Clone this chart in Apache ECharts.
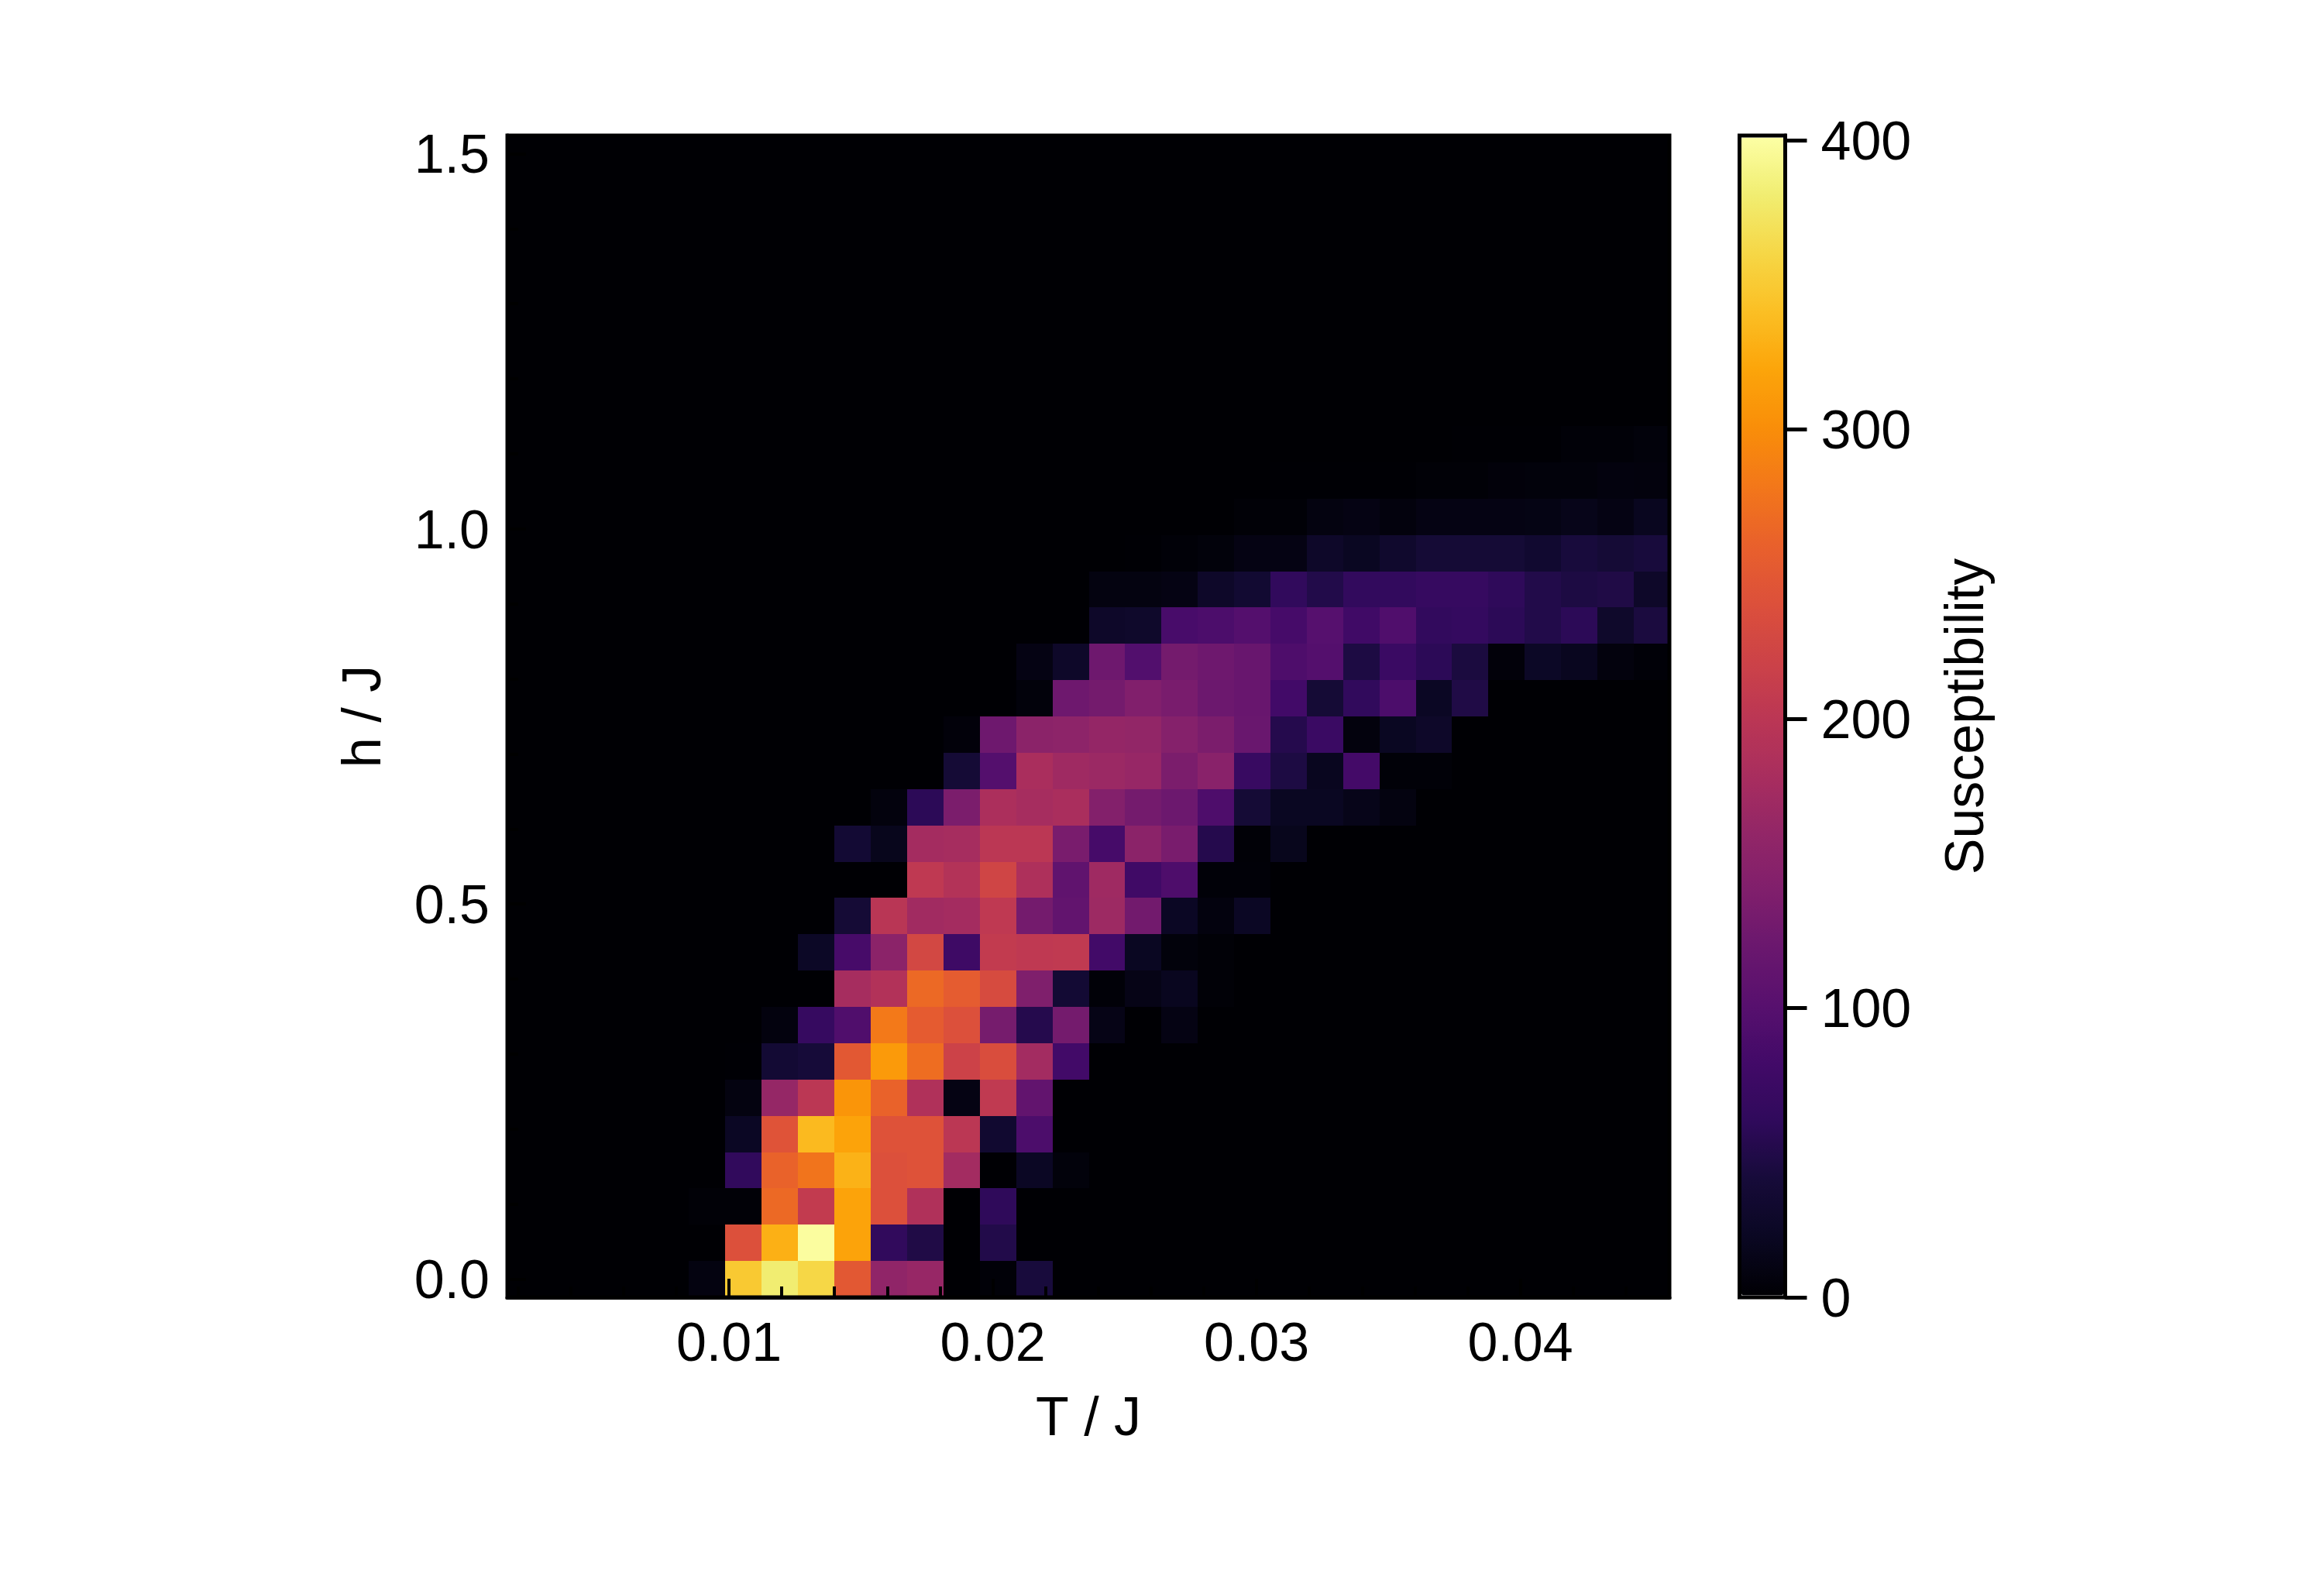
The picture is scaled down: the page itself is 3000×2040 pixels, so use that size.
<!DOCTYPE html>
<html>
<head>
<meta charset="utf-8">
<style>html,body{margin:0;padding:0;background:#fff}#c{width:3000px;height:2040px}</style>
<script src="https://cdn.jsdelivr.net/npm/echarts@6/dist/echarts.min.js"></script>
</head>
<body>
<div id="c"></div>
<script>
const temperatures = [0.00229,0.00366,0.00504,0.00642,0.00780,0.00917,0.01055,0.01193,0.01331,0.01468,0.01606,0.01744,0.01882,0.02019,0.02157,0.02295,0.02433,0.02570,0.02708,0.02846,0.02984,0.03121,0.03259,0.03397,0.03535,0.03672,0.03810,0.03948,0.04086,0.04223,0.04361,0.04499];
const fields = [0,0.0484,0.0968,0.1452,0.1935,0.2419,0.2903,0.3387,0.3871,0.4355,0.4839,0.5323,0.5806,0.6290,0.6774,0.7258,0.7742,0.8226,0.8710,0.9194,0.9677,1.0161,1.0645,1.1129,1.1613,1.2097,1.2581,1.3065,1.3548,1.4032,1.4516,1.5];
// rows from h = 0 upward, one value per temperature
const susceptibility = [
[0,0,0,0,0,8,350,382,362,250,158,164,0,3,42,0,0,0,0,0,0,0,0,0,0,0,0,0,0,0,0,0],
[0,0,0,0,0,0,240,330,400,320,62,48,0,50,0,0,0,0,0,0,0,0,0,0,0,0,0,0,0,0,0,0],
[0,0,0,0,0,2,2,268,208,320,240,188,0,60,0,0,0,0,0,0,0,0,0,0,0,0,0,0,0,0,0,0],
[0,0,0,0,0,0,62,262,278,332,240,243,175,0,22,5,0,0,0,0,0,0,0,0,0,0,0,0,0,0,0,0],
[0,0,0,0,0,0,22,244,338,320,243,243,200,32,90,0,0,0,0,0,0,0,0,0,0,0,0,0,0,0,0,0],
[0,0,0,0,0,0,8,163,200,308,262,188,10,206,112,0,0,0,0,0,0,0,0,0,0,0,0,0,0,0,0,0],
[0,0,0,0,0,0,1,36,40,250,312,272,220,236,175,80,0,0,0,0,0,0,0,0,0,0,0,0,0,0,0,0],
[0,0,0,0,0,0,0,7,68,94,282,254,240,132,52,130,12,0,10,0,0,0,0,0,0,0,0,0,0,0,0,0],
[0,0,0,0,0,0,0,0,0,178,190,268,255,233,140,36,3,12,18,2,0,0,0,0,0,0,0,0,0,0,0,0],
[0,0,0,0,0,0,0,0,24,85,152,228,76,208,204,206,80,20,5,2,0,0,0,0,0,0,0,0,0,0,0,0],
[0,0,0,0,0,0,0,0,0,38,198,174,176,204,130,112,170,128,22,7,22,0,0,0,0,0,0,0,0,0,0,0],
[0,0,0,0,0,0,0,0,0,0,0,204,192,224,186,110,172,78,92,3,3,0,0,0,0,0,0,0,0,0,0,0],
[0,0,0,0,0,0,0,0,0,36,16,176,178,200,200,134,84,152,134,52,2,16,0,0,0,0,0,0,0,0,0,0],
[0,0,0,0,0,0,0,0,0,0,6,58,136,184,178,182,144,130,122,92,38,20,20,14,8,0,0,0,0,0,0,0],
[0,0,0,0,0,0,0,0,0,0,0,0,38,98,182,172,168,164,136,150,70,46,18,82,3,3,0,0,0,0,0,0],
[0,0,0,0,0,0,0,0,0,0,0,0,4,124,152,154,162,160,146,136,120,52,72,6,20,26,0,0,0,0,0,0],
[0,0,0,0,0,0,0,0,0,0,0,0,0,0,5,124,130,142,134,122,118,80,38,62,90,22,48,0,0,0,0,0],
[0,0,0,0,0,0,0,0,0,0,0,0,0,0,10,26,124,96,130,124,118,92,98,46,72,58,44,4,24,18,6,3],
[0,0,0,0,0,0,0,0,0,0,0,0,0,0,0,0,26,28,86,90,98,84,100,78,94,64,66,58,50,58,28,44],
[0,0,0,0,0,0,0,0,0,0,0,0,0,0,0,0,8,8,10,26,34,62,50,64,64,68,68,60,50,46,48,26],
[0,0,0,0,0,0,0,0,0,0,0,0,0,0,0,0,0,1,3,5,10,10,26,20,30,38,38,38,32,42,38,42],
[0,0,0,0,0,0,0,0,0,0,0,0,0,0,0,0,0,0,0,0,2,2,8,10,6,10,10,10,11,14,10,18],
[0,0,0,0,0,0,0,0,0,0,0,0,0,0,0,0,0,0,0,0,0,1,1,1,1,2,2,4,5,5,7,6],
[0,0,0,0,0,0,0,0,0,0,0,0,0,0,0,0,0,0,0,0,0,0,0,0,0,0,1,1,1,3,3,5],
[0,0,0,0,0,0,0,0,0,0,0,0,0,0,0,0,0,0,0,0,0,0,0,0,0,0,0,0,0,0,0,0],
[0,0,0,0,0,0,0,0,0,0,0,0,0,0,0,0,0,0,0,0,0,0,0,0,0,0,0,0,0,0,0,0],
[0,0,0,0,0,0,0,0,0,0,0,0,0,0,0,0,0,0,0,0,0,0,0,0,0,0,0,0,0,0,0,0],
[0,0,0,0,0,0,0,0,0,0,0,0,0,0,0,0,0,0,0,0,0,0,0,0,0,0,0,0,0,0,0,0],
[0,0,0,0,0,0,0,0,0,0,0,0,0,0,0,0,0,0,0,0,0,0,0,0,0,0,0,0,0,0,0,0],
[0,0,0,0,0,0,0,0,0,0,0,0,0,0,0,0,0,0,0,0,0,0,0,0,0,0,0,0,0,0,0,0],
[0,0,0,0,0,0,0,0,0,0,0,0,0,0,0,0,0,0,0,0,0,0,0,0,0,0,0,0,0,0,0,0],
[0,0,0,0,0,0,0,0,0,0,0,0,0,0,0,0,0,0,0,0,0,0,0,0,0,0,0,0,0,0,0,0]
];
const xMajorTicks = [0.01,0.02,0.03,0.04];
const xMinorTicks = [0.002,0.004,0.006,0.008,0.012,0.014,0.016,0.018,0.022,0.024,0.026,0.028,0.032,0.034,0.036,0.038,0.042,0.044];
const yMajorTicks = [0,0.5,1,1.5];
const yMinorTicks = [0.1,0.2,0.3,0.4,0.6,0.7,0.8,0.9,1.1,1.2,1.3,1.4];
const colorbarTicks = [0,100,200,300,400];
const infernoStops = ['#000004','#0a0722','#160b39','#2f0a5b','#420a68','#57106e','#6a176e','#801f6c','#932667','#a92e5e','#bc3754','#cd4347','#dd513a','#e9612b','#f37819','#f98e09','#fca50a','#fbbf24','#f6d746','#f1ed71','#fcffa4'];

const FONT = '"Liberation Sans", Arial, sans-serif';
const FS = 70;
const XMIN = 0.0016, XMAX = 0.04565, YMIN = -0.0242, YMAX = 1.5242;

// cell edges are the midpoints between neighbouring sample values, so neighbours share a boundary
const edges = (vals, lo, hi) => vals.map((v, i) => i === 0 ? lo : (vals[i-1] + v) / 2).concat([hi]);
const tEdges = edges(temperatures, XMIN, XMAX);
const hEdges = edges(fields, YMIN, YMAX);
const cells = [];
susceptibility.forEach((row, r) => row.forEach((v, c) =>
  cells.push([temperatures[c], fields[r], v, tEdges[c], tEdges[c+1], hEdges[r], hEdges[r+1]])));

const labelStyle = {color:'#000', fontFamily:FONT, fontSize:FS};
const nameStyle = {color:'#000', fontFamily:FONT, fontSize:FS};

const chart = echarts.init(document.getElementById('c'), null, {renderer:'canvas', width:3000, height:2040});
chart.setOption({
  backgroundColor:'#fff',
  animation:false,
  grid:[
    {left:655, top:175, width:1500, height:1500, show:true, backgroundColor:'transparent', borderColor:'#000', borderWidth:5, z:10, containLabel:false},
    {left:2245.5, top:175, width:59, height:1500, show:true, backgroundColor:'transparent', borderColor:'#000', borderWidth:5, z:10}
  ],
  xAxis:[
    {type:'value', gridIndex:0, position:'bottom', min:XMIN, max:XMAX, z:10, splitLine:{show:false},
     axisLine:{show:true, onZero:false, lineStyle:{color:'#000', width:5}},
     axisTick:{show:true, inside:true, length:24, lineStyle:{color:'#000', width:4}, customValues:xMajorTicks},
     axisLabel:{show:true, margin:28, customValues:xMajorTicks, formatter:v=>v.toFixed(2), ...labelStyle},
     name:'T / J', nameLocation:'middle', nameGap:124, nameTextStyle:nameStyle},
    {type:'value', gridIndex:0, position:'bottom', min:XMIN, max:XMAX, z:10, splitLine:{show:false},
     axisLine:{show:false, onZero:false},
     axisTick:{show:true, inside:true, length:14, lineStyle:{color:'#000', width:4}, customValues:xMinorTicks},
     axisLabel:{show:false}},
    {type:'value', gridIndex:1, min:0, max:1, show:false}
  ],
  yAxis:[
    {type:'value', gridIndex:0, position:'left', min:YMIN, max:YMAX, z:10, splitLine:{show:false},
     axisLine:{show:true, onZero:false, lineStyle:{color:'#000', width:5}},
     axisTick:{show:true, inside:true, length:24, lineStyle:{color:'#000', width:4}, customValues:yMajorTicks},
     axisLabel:{show:true, margin:23, verticalAlign:'top', lineHeight:11, customValues:yMajorTicks, formatter:v=>v.toFixed(1), ...labelStyle},
     name:'h / J', nameLocation:'middle', nameGap:148, nameRotate:90, nameTextStyle:nameStyle},
    {type:'value', gridIndex:0, position:'left', min:YMIN, max:YMAX, z:10, splitLine:{show:false},
     axisLine:{show:false, onZero:false},
     axisTick:{show:true, inside:true, length:14, lineStyle:{color:'#000', width:4}, customValues:yMinorTicks},
     axisLabel:{show:false}},
    {type:'value', gridIndex:1, position:'right', min:0, max:401.6, z:10, splitLine:{show:false},
     axisLine:{show:true, onZero:false, lineStyle:{color:'#000', width:5}},
     axisTick:{show:true, inside:false, length:28, lineStyle:{color:'#000', width:5}, customValues:colorbarTicks},
     axisLabel:{show:true, margin:46, verticalAlign:'top', lineHeight:11, customValues:colorbarTicks, formatter:v=>String(v), ...labelStyle},
     name:'Susceptibility', nameLocation:'middle', nameGap:201, nameRotate:90, nameTextStyle:nameStyle}
  ],
  visualMap:{
    type:'continuous', min:0, max:402, seriesIndex:0, dimension:2,
    left:2248, top:177.5, itemWidth:54, itemHeight:1495, padding:0,
    calculable:false, realtime:false, hoverLink:false, text:null, show:true,
    inRange:{color:infernoStops}, textStyle:{fontSize:1, color:'transparent'}
  },
  series:[{
    type:'custom', coordinateSystem:'cartesian2d', xAxisIndex:0, yAxisIndex:0,
    data:cells, dimensions:['T','h','chi','tLo','tHi','hLo','hHi'], encode:{x:0, y:1}, clip:true, progressive:0, silent:true,
    renderItem:function(params, api){
      const a = api.coord([api.value(3), api.value(6)]);
      const b = api.coord([api.value(4), api.value(5)]);
      const x0 = Math.round(a[0]), y0 = Math.round(a[1]), x1 = Math.round(b[0]), y1 = Math.round(b[1]);
      return {type:'rect', shape:{x:x0, y:y0, width:x1-x0, height:y1-y0},
              style:{fill:api.visual('color')}};
    }
  }]
});
</script>
</body>
</html>
